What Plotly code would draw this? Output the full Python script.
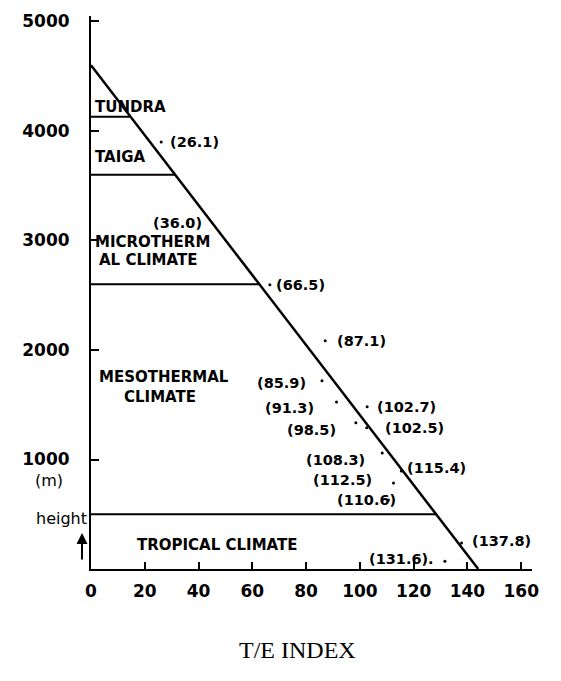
import plotly.graph_objects as go

# ---- data ----
x_ticks = [0, 20, 40, 60, 80, 100, 120, 140, 160]
y_ticks = [1000, 2000, 3000, 4000, 5000]

# main T/E - height line
line_te = [0, 144]
line_h = [4600, 0]

# climate zone boundary heights (m)
boundary_h = [4130, 3600, 2600, 500]

# station T/E index values and heights
station_te = [26.1, 36.0, 66.5, 87.1, 85.9, 91.3, 98.5, 102.7, 102.5,
              108.3, 112.5, 115.4, 110.6, 137.8, 131.6]
station_h = [3900, 3160, 2596, 2084, 1718, 1526, 1335, 1481, 1289,
             1060, 786, 896, 631, 238, 70]
station_lbl = ["(26.1)", "(36.0)", "(66.5)", "(87.1)", "(85.9)", "(91.3)", "(98.5)",
               "(102.7)", "(102.5)", "(108.3)", "(112.5)", "(115.4)", "(110.6)",
               "(137.8)", "(131.6)."]

# zone names
zone_text = ["TUNDRA", "TAIGA", "MICROTHERM", "AL CLIMATE", "MESOTHERMAL", "CLIMATE",
             "TROPICAL CLIMATE"]
zone_x = [0.8, 0.8, 0.8, 2.2, 2.2, 11.5, 16.4]
zone_y = [4219, 3763, 2986, 2822, 1753, 1571, 219]

# ---- label placement styles (pixels) ----
lbl_anchor = ["left", "center", "left", "left", "right", "right", "right", "left",
              "left", "right", "right", "left", "right", "left", "right"]
lbl_dx = [7, -10, 4, 10, -14, -21, -18, 8, 16, -15, -20, 4, 10, 8, -9]
lbl_dy = [0, 0, 0, 0, -2, -6, -7, 0, 0, -7, 3, 3, 0, 2, 2]

FONT = dict(family="DejaVu Sans", size=14.5, color="black", weight="bold")
ZFONT = dict(family="DejaVu Sans", size=15, color="black", weight="bold")

fig = go.Figure()

# diagonal line
fig.add_trace(go.Scatter(x=line_te, y=line_h, mode="lines",
                         line=dict(color="black", width=2.5),
                         hoverinfo="skip", showlegend=False))

# boundaries from axis to diagonal
slope_x0 = line_te[1]
h0 = line_h[0]
for h in boundary_h:
    xe = slope_x0 * (1 - h / h0)
    fig.add_trace(go.Scatter(x=[0, xe], y=[h, h], mode="lines",
                             line=dict(color="black", width=2),
                             hoverinfo="skip", showlegend=False))

# stations
fig.add_trace(go.Scatter(x=station_te, y=station_h, mode="markers",
                         marker=dict(color="black", size=3),
                         text=station_lbl, hoverinfo="text", cliponaxis=False,
                         showlegend=False))
for t, x, y, a, dx, dy in zip(station_lbl, station_te, station_h, lbl_anchor, lbl_dx, lbl_dy):
    fig.add_annotation(x=x, y=y, text=t, showarrow=False, xanchor=a, yanchor="middle",
                       xshift=dx, yshift=dy, font=FONT)

for t, x, y in zip(zone_text, zone_x, zone_y):
    fig.add_annotation(x=x, y=y, text=t, showarrow=False, xanchor="left",
                       yanchor="middle", font=ZFONT)

# axis side labels
SIDE = dict(family="DejaVu Sans", size=16, color="black")
fig.add_annotation(xref="paper", yref="paper", x=(49 - 91) / 441, y=(569 - 480) / 553,
                   text="(m)", showarrow=False, xanchor="center", yanchor="middle", font=SIDE)
fig.add_annotation(xref="paper", yref="paper", x=(89 - 91) / 441, y=(569 - 518) / 553,
                   text="height", showarrow=False, xanchor="right", yanchor="middle", font=SIDE)
fig.add_annotation(xref="paper", yref="paper", x=(82 - 91) / 441, y=(569 - 533) / 553,
                   ax=0, ay=28, axref="pixel", ayref="pixel",
                   text="", showarrow=True, arrowhead=2, arrowsize=1.1, arrowwidth=2,
                   arrowcolor="black")
fig.add_annotation(xref="paper", yref="paper", x=(297 - 91) / 441, y=(569 - 650) / 553,
                   text="T/E INDEX", showarrow=False, xanchor="center", yanchor="middle",
                   font=dict(family="Liberation Serif", size=24, color="black"))

AX_FONT = dict(family="DejaVu Sans", size=17, color="black", weight="bold")
fig.update_xaxes(range=[0, 164], tickvals=x_ticks, showline=True, linecolor="black",
                 linewidth=2, ticks="inside", ticklen=7, tickwidth=2, tickcolor="black",
                 showgrid=False, zeroline=False, tickfont=AX_FONT, ticklabelstandoff=6)
fig.update_yaxes(range=[0, 5050], tickvals=y_ticks, showline=True, linecolor="black",
                 linewidth=2, ticks="inside", ticklen=8, tickwidth=2, tickcolor="black",
                 showgrid=False, zeroline=False, tickfont=AX_FONT, ticklabelstandoff=16)

fig.update_layout(width=561, height=681, margin=dict(l=91, r=29, t=16, b=112),
                  plot_bgcolor="white", paper_bgcolor="white")

fig.write_html("out.html")
